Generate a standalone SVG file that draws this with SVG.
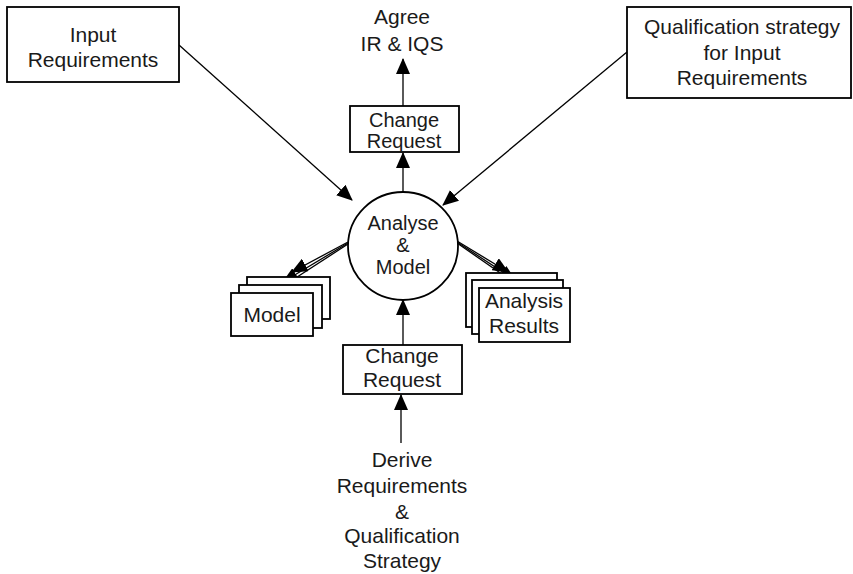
<svg xmlns="http://www.w3.org/2000/svg" width="853" height="574" viewBox="0 0 853 574">
<defs>
<marker id="ah" markerUnits="userSpaceOnUse" markerWidth="16" markerHeight="14" refX="15" refY="7" orient="auto">
<path d="M0,0 L16,7 L0,14 Z" fill="#000"/>
</marker>
<style>
.box{fill:#fff;stroke:#000;stroke-width:1.8}
.t{font-family:"Liberation Sans",Arial,sans-serif;font-size:21px;fill:#1a1a1a;text-anchor:middle}
.s{font-size:20px}
.c{stroke:#000;stroke-width:1.3;fill:none;marker-end:url(#ah)}
</style>
</defs>
<rect width="853" height="574" fill="#fff"/>
<g id="connectors">
<line class="c" x1="179" y1="45" x2="352" y2="200"/>
<line class="c" x1="627" y1="52" x2="443" y2="205"/>
<line class="c" x1="403" y1="106" x2="403" y2="59"/>
<line class="c" x1="403" y1="192" x2="403" y2="153"/>
<line class="c" x1="403" y1="345" x2="403" y2="300"/>
<line class="c" x1="401" y1="443" x2="401" y2="395"/>
<line class="c" x1="348" y1="242" x2="292" y2="272"/>
<line class="c" x1="348" y1="243" x2="283" y2="282"/>
<line class="c" x1="348" y1="244" x2="274" y2="292"/>
<line class="c" x1="457" y1="241" x2="508" y2="272"/>
<line class="c" x1="457" y1="242" x2="515" y2="280"/>
<line class="c" x1="457" y1="243" x2="522" y2="288"/>
</g>
<g id="input-requirements">
<rect class="box" x="7" y="7" width="172" height="75"/>
<text class="t" x="93" y="42">Input</text>
<text class="t" x="93" y="67">Requirements</text>
</g>
<g id="agree">
<text class="t" x="402" y="24">Agree</text>
<text class="t" x="402" y="51">IR &amp; IQS</text>
</g>
<g id="qualification-strategy">
<rect class="box" x="627" y="7" width="224" height="91"/>
<text class="t" x="742" y="34">Qualification strategy</text>
<text class="t" x="742" y="60">for Input</text>
<text class="t" x="742" y="85">Requirements</text>
</g>
<g id="change-request-top">
<rect class="box" x="350" y="106" width="109" height="46"/>
<text class="t s" x="404" y="127">Change</text>
<text class="t s" x="404" y="148">Request</text>
</g>
<g id="analyse-model">
<ellipse class="box" cx="403" cy="246" rx="55" ry="54"/>
<text class="t s" x="403" y="230">Analyse</text>
<text class="t s" x="403" y="252">&amp;</text>
<text class="t s" x="403" y="274">Model</text>
</g>
<g id="model">
<rect class="box" x="247" y="277" width="83" height="42"/>
<rect class="box" x="239" y="285" width="83" height="43"/>
<rect class="box" x="231" y="293" width="82" height="43"/>
<text class="t" x="272" y="322">Model</text>
</g>
<g id="analysis-results">
<rect class="box" x="466" y="273" width="91" height="54"/>
<rect class="box" x="472" y="280" width="91" height="54"/>
<rect class="box" x="479" y="288" width="91" height="54"/>
<text class="t" x="524" y="308">Analysis</text>
<text class="t" x="524" y="333">Results</text>
</g>
<g id="change-request-bottom">
<rect class="box" x="343" y="345" width="119" height="49"/>
<text class="t" x="402" y="363">Change</text>
<text class="t" x="402" y="387">Request</text>
</g>
<g id="derive">
<text class="t" x="402" y="467">Derive</text>
<text class="t" x="402" y="493">Requirements</text>
<text class="t" x="402" y="519">&amp;</text>
<text class="t" x="402" y="543">Qualification</text>
<text class="t" x="402" y="568">Strategy</text>
</g>
</svg>
